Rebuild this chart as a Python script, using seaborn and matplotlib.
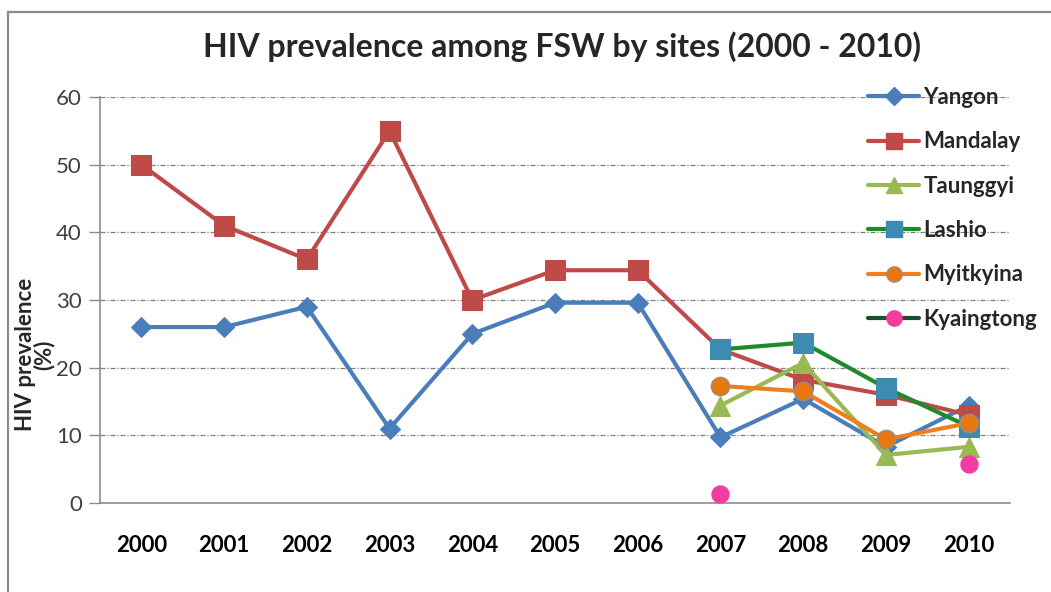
import matplotlib
matplotlib.use('Agg')
import matplotlib.pyplot as plt
import seaborn as sns
from matplotlib.lines import Line2D
from matplotlib.patches import Rectangle

# HIV prevalence (%) among FSW
years = [2000, 2001, 2002, 2003, 2004, 2005, 2006, 2007, 2008, 2009, 2010]
yangon = [26, 26, 29, 11, 25, 29.6, 29.6, 9.7, 15.4, 8.3, 14.4]
mandalay = [50, 41, 36, 55, 30, 34.4, 34.4, 22.7, 18.2, 16.0, 13.0]

site_years = [2007, 2008, 2009, 2010]
taunggyi = [14.4, 20.7, 7.1, 8.3]
lashio = [22.7, 23.7, 17.0, 11.3]
myitkyina = [17.3, 16.5, 9.4, 11.8]

kyaingtong_years = [2007, 2010]
kyaingtong = [1.4, 5.8]

sns.set_style('white')
plt.rcParams['font.family'] = ['Lato', 'DejaVu Sans']

fig = plt.figure(figsize=(10.51, 5.92), dpi=100)
ax = fig.add_axes([100 / 1051, 1 - 503 / 592, 910 / 1051, 406 / 592])

# outer chart frame
fig.patches.append(Rectangle((8 / 1051, -0.1), 1.2, 1.1 - 12 / 592, transform=fig.transFigure,
                             fill=False, edgecolor='#8c8c8c', linewidth=1.6, zorder=0))

ax.yaxis.grid(True, color='#7f7f7f', linestyle=(0, (4, 1.5, 1, 1.5)), linewidth=0.9)
ax.set_axisbelow(True)

lw = 3
sns.lineplot(x=years, y=yangon, ax=ax, color='#4a7ebb', marker='D', markersize=10,
             markeredgecolor='#4a7ebb', linewidth=lw)
sns.lineplot(x=years, y=mandalay, ax=ax, color='#be4b48', marker='s', markersize=14,
             markeredgecolor='#be4b48', linewidth=lw)
sns.lineplot(x=site_years, y=taunggyi, ax=ax, color='#98b954', marker='^', markersize=14,
             markeredgecolor='#98b954', linewidth=lw)
sns.lineplot(x=site_years, y=lashio, ax=ax, color='#1f8a2a', marker='s', markersize=14,
             markerfacecolor='#3d8bb0', markeredgecolor='#3d8bb0', linewidth=lw)
sns.lineplot(x=site_years, y=myitkyina, ax=ax, color='#ee7f1f', marker='o', markersize=13,
             markerfacecolor='#e8770f', markeredgecolor='#a08c78', markeredgewidth=1.2, linewidth=lw)
sns.scatterplot(x=kyaingtong_years, y=kyaingtong, ax=ax, color='#f23c9f', marker='o', s=150,
                edgecolor='#f23c9f', zorder=5)

ax.set_xlim(1999.5, 2010.5)
ax.set_ylim(0, 60)
ax.set_yticks(range(0, 61, 10))
ax.set_xticks(years)
ax.set_xticks([y - 0.5 for y in years] + [2010.5], minor=True)
ax.tick_params(axis='x', which='major', length=0, pad=23, labelsize=16, labelcolor='black')
ax.tick_params(axis='x', which='minor', length=8, width=1, color='#8c8c8c', direction='out')
ax.tick_params(axis='y', length=8, width=1, color='#8c8c8c', direction='out', pad=5,
               labelsize=16, labelcolor='#404040', left=True)
for lab in ax.get_xticklabels():
    lab.set_fontweight('bold')

sns.despine(ax=ax)
for side in ['left', 'bottom']:
    ax.spines[side].set_color('#8c8c8c')
    ax.spines[side].set_linewidth(1.2)

ax.set_ylabel('HIV prevalence\n(%)', fontsize=16, fontweight='bold', linespacing=0.8)
ax.yaxis.set_label_coords(-0.05, 0.365)

fig.text(562 / 1051, 1 - 47 / 592, 'HIV prevalence among FSW by sites (2000 - 2010)',
         ha='center', va='center', fontsize=23, fontweight='bold')

handles = [
    Line2D([], [], color='#4a7ebb', marker='D', markersize=9, linewidth=lw),
    Line2D([], [], color='#be4b48', marker='s', markersize=12, linewidth=lw),
    Line2D([], [], color='#98b954', marker='^', markersize=12, linewidth=lw),
    Line2D([], [], color='#1f8a2a', marker='s', markersize=12, linewidth=lw,
           markerfacecolor='#3d8bb0', markeredgecolor='#3d8bb0'),
    Line2D([], [], color='#ee7f1f', marker='o', markersize=11, linewidth=lw,
           markerfacecolor='#e8770f', markeredgecolor='#a08c78'),
    Line2D([], [], color='#1b4f2c', marker='o', markersize=11, linewidth=lw,
           markerfacecolor='#f23c9f', markeredgecolor='#f23c9f'),
]
labels = ['Yangon', 'Mandalay', 'Taunggyi', 'Lashio', 'Myitkyina', 'Kyaingtong']
fig.legend(handles, labels, loc='upper left', bbox_to_anchor=(868 / 1051, 1 - 87 / 592),
           frameon=False, prop={'size': 16, 'weight': 'bold'}, handlelength=2.3,
           handletextpad=0.2, labelspacing=1.05, borderaxespad=0, borderpad=0)

fig.savefig('out.png', dpi=100)
